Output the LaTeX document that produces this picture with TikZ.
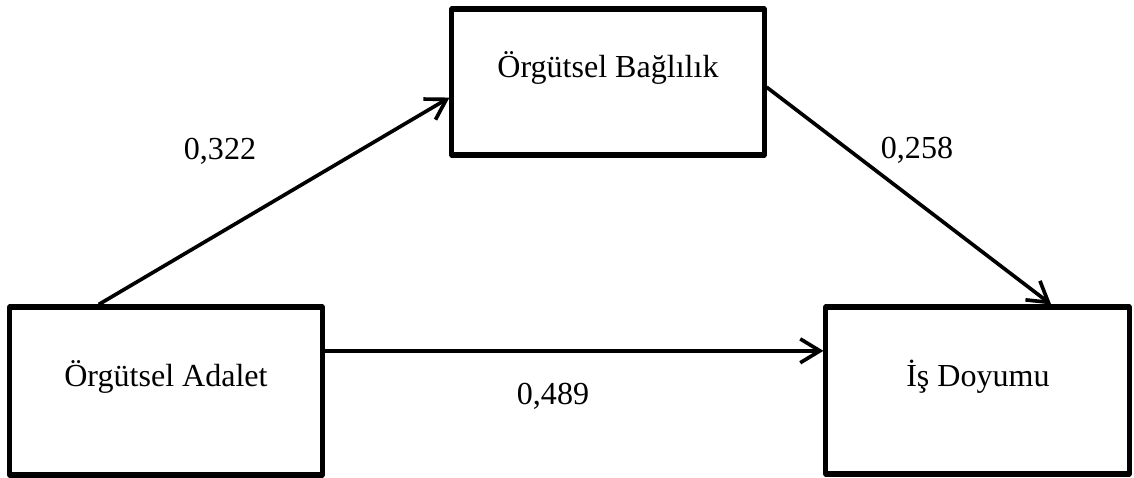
\documentclass[tikz,border=0pt]{standalone}
\usepackage{fontspec}
\setmainfont{Liberation Serif}
\usetikzlibrary{arrows.meta,positioning,calc}

\begin{document}
\begin{tikzpicture}[x=0.025cm,y=-0.025cm,
    kutu/.style={draw,line width=3.6pt,line join=round,inner sep=0pt},
    yazi/.style={anchor=base,inner sep=0pt,font=\fontsize{22.8}{27}\selectfont},
    ok/.style={line width=2.6pt,-{Straight Barb[length=14pt,width=17pt,line width=2.6pt]}}]
            \useasboundingbox (0,0) rectangle (1134,478);
            % kutular
            \node[kutu,minimum width=7.8cm,minimum height=3.65cm] (bag) at (608,82) {};
            \node[kutu,minimum width=7.8cm,minimum height=4.2cm] (adalet) at (166,391) {};
            \node[kutu,minimum width=7.575cm,minimum height=4.175cm] (doyum) at (977.5,390.5) {};
            \node[yazi] (bagT) at (608,78) {Örgütsel Bağlılık};
            \node[yazi] (adaletT) at (166,387) {Örgütsel Adalet};
            \node[yazi] (doyumT) at (978,387) {İş Doyumu};

            % oklar
            \draw[ok] ($(adalet.north west)!0.288!(adalet.north east)$) -- ($(bag.north west)!0.603!(bag.south west)$);
            \draw[ok] ($(bag.north east)!0.534!(bag.south east)$) -- ($(doyum.north west)!0.739!(doyum.north east)$);
            \coordinate (a1) at ($(adalet.north east)!0.268!(adalet.south east)$);
            \draw[ok] (a1) -- (a1 -| doyum.west);

            % katsayilar
            \node[yazi] (k1) at (220,160) {0,322};
            \node[yazi] (k2) at (917,159) {0,258};
            \node[yazi] (k3) at (553,405) {0,489};
        \end{tikzpicture}
\end{document}
